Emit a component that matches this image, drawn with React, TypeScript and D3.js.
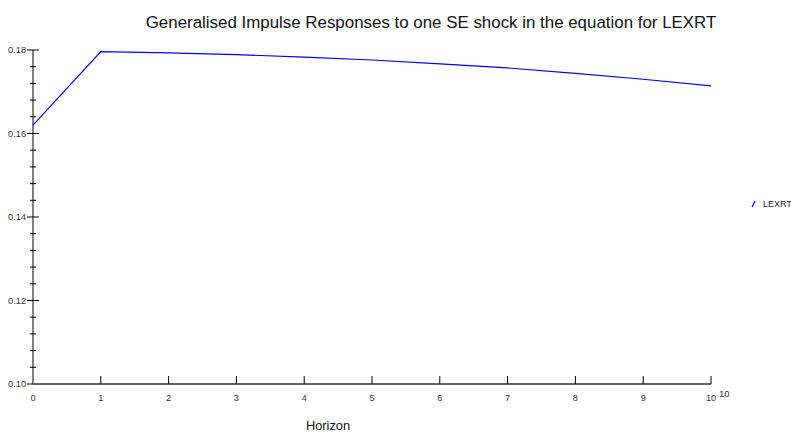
import React from 'react'
import * as d3 from 'd3'

const horizons = [0, 1, 2, 3, 4, 5, 6, 7, 8, 9, 10]
const lexrt = [0.162, 0.1796, 0.1793, 0.1789, 0.1783, 0.1776, 0.1767, 0.1757, 0.1744, 0.1730, 0.1714]
const yMajor = [0.10, 0.12, 0.14, 0.16, 0.18]
const seriesName = 'LEXRT'
const title = 'Generalised Impulse Responses to one SE shock in the equation for LEXRT'

const W = 791
const H = 432
const font = '"Liberation Sans", Arial, sans-serif'

const App = () => {
  const x = d3.scaleLinear().domain([0, 10]).range([33, 711])
  const y = d3.scaleLinear().domain([0.10, 0.18]).range([384, 50])
  const yMinor = d3.range(0.10, 0.1801, 0.004).filter(v => !yMajor.some(m => Math.abs(m - v) < 1e-6))

  const line = d3.line<number>()
    .x((d, i) => x(horizons[i]))
    .y(d => y(d))

  return (
    <svg width={W} height={H} style={{ position: 'absolute', left: 0, top: 0, background: '#fff' }} fontFamily={font}>
      <text x={431} y={28} fontSize={16.9} textAnchor="middle" fill="#111">{title}</text>

      {/* y axis */}
      <line x1={33} x2={33} y1={y(0.18)} y2={y(0.10)} stroke="#000" strokeWidth={1} />
      {yMajor.map(v => (
        <g key={v}>
          <line x1={27} x2={39} y1={y(v)} y2={y(v)} stroke="#000" />
          <text x={26} y={y(v) + 3.2} fontSize={9.2} textAnchor="end" fill="#333">{v.toFixed(2)}</text>
        </g>
      ))}
      {yMinor.map(v => (
        <line key={v} x1={30} x2={36} y1={y(v)} y2={y(v)} stroke="#000" />
      ))}

      {/* x axis */}
      <line x1={x(0)} x2={x(10)} y1={384} y2={384} stroke="#666" strokeWidth={2} />
      {horizons.map(h => (
        <g key={h}>
          {h > 0 && <line x1={x(h)} x2={x(h)} y1={376} y2={384} stroke="#000" />}
          <text x={x(h)} y={401} fontSize={9.2} textAnchor="middle" fill="#333">{h}</text>
        </g>
      ))}
      <text x={719} y={397} fontSize={9.5} fill="#333">10</text>
      <text x={328} y={430} fontSize={12.8} textAnchor="middle" fill="#111">Horizon</text>

      <path d={line(lexrt) || ''} fill="none" stroke="#0000ff" strokeWidth={1.2} />

      {/* legend */}
      <line x1={752} x2={755} y1={207} y2={201} stroke="#0000ff" strokeWidth={1.2} />
      <text x={763} y={207} fontSize={9} fill="#222">{seriesName}</text>
    </svg>
  )
}

export default App
